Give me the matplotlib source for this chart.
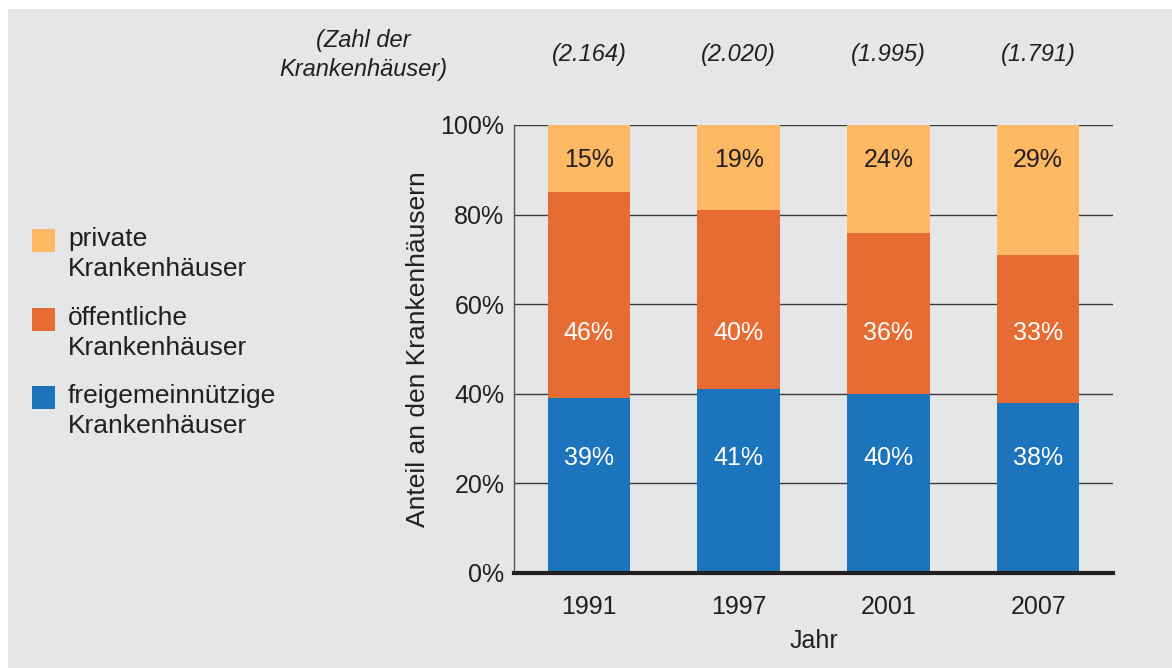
import matplotlib.pyplot as plt
from matplotlib.patches import Rectangle
import numpy as np

plt.rcParams['font.family'] = ['Liberation Sans', 'DejaVu Sans']

years = ["1991", "1997", "2001", "2007"]
counts = ["(2.164)", "(2.020)", "(1.995)", "(1.791)"]
freigemein = [39, 41, 40, 38]
oeffentlich = [46, 40, 36, 33]
privat = [15, 19, 24, 29]
series = [freigemein, oeffentlich, privat]
series_names = ["freigemeinnützige\nKrankenhäuser",
                "öffentliche\nKrankenhäuser",
                "private\nKrankenhäuser"]
colors = ["#1c75bc", "#e66c33", "#fdb863"]
text_colors = ["white", "white", "#231f20"]
label_y = [25.7, 53.6, 92.2]   # fixed label heights in the original

BG = "#e5e6e8"
DARK = "#231f20"
W, H = 1172, 668


def fx(px):
    return px / W


def fy(py):
    return 1 - py / H


fig = plt.figure(figsize=(W / 100, H / 100), dpi=100)
fig.patch.set_facecolor("white")
fig.add_artist(Rectangle((fx(8), 0), 1, fy(9), transform=fig.transFigure,
                         facecolor=BG, edgecolor="none", zorder=-10))

ax = fig.add_axes([fx(514), fy(573), 599 / W, 448 / H])
ax.set_facecolor("none")

x = np.arange(len(years))
bottom = np.zeros(len(years))
for vals, col, tcol, ly in zip(series, colors, text_colors, label_y):
    ax.bar(x, vals, 0.55, bottom=bottom, color=col, zorder=3)
    for xi, v in zip(x, vals):
        ax.text(xi, ly, f"{v}%", ha="center", va="center", color=tcol,
                fontsize=18, zorder=4)
    bottom += np.array(vals)

ax.set_xlim(-0.5, 3.5)
ax.set_ylim(0, 100)
ax.set_xticks(x)
ax.set_xticklabels(years)
ax.set_yticks(range(0, 101, 20))
ax.set_yticklabels([f"{t}%" for t in range(0, 101, 20)])
ax.yaxis.grid(True, color="#3a3a3a", lw=1, zorder=0)
ax.set_axisbelow(True)
for s in ["top", "right"]:
    ax.spines[s].set_visible(False)
ax.spines["left"].set_color("#555555")
ax.spines["left"].set_linewidth(1)
ax.spines["bottom"].set_color(DARK)
ax.spines["bottom"].set_linewidth(3)
ax.spines["bottom"].set_zorder(5)
ax.tick_params(length=0, labelsize=18, labelcolor=DARK)
ax.tick_params(axis="x", pad=16)
ax.tick_params(axis="y", pad=7)
ax.set_xlabel("Jahr", fontsize=18, color=DARK, labelpad=7)

# number of hospitals above bars
for xi, c in zip(x, counts):
    ax.text(xi, 1.158, c, transform=ax.get_xaxis_transform(), ha="center",
            va="center", fontsize=17, style="italic", color=DARK, clip_on=False)
fig.text(fx(363), fy(55), "(Zahl der\nKrankenhäuser)", ha="center", va="center",
         fontsize=17, style="italic", color=DARK, linespacing=1.35)

fig.text(fx(418), fy(349), "Anteil an den Krankenhäusern", rotation=90,
         ha="center", va="center", fontsize=19, color=DARK)

# legend, top to bottom: private, öffentliche, freigemeinnützige
tops = [229, 308, 386]
for top, name, col in zip(tops, series_names[::-1], colors[::-1]):
    fig.add_artist(Rectangle((fx(32), fy(top + 23)), 23 / W, 23 / H,
                             transform=fig.transFigure, facecolor=col,
                             edgecolor="none"))
    for i, line in enumerate(name.split("\n")):
        fig.text(fx(68), fy(top + 17 + 30 * i), line, ha="left", va="baseline",
                 fontsize=19, color=DARK)

fig.savefig("out.png", dpi=100, facecolor=fig.get_facecolor())
